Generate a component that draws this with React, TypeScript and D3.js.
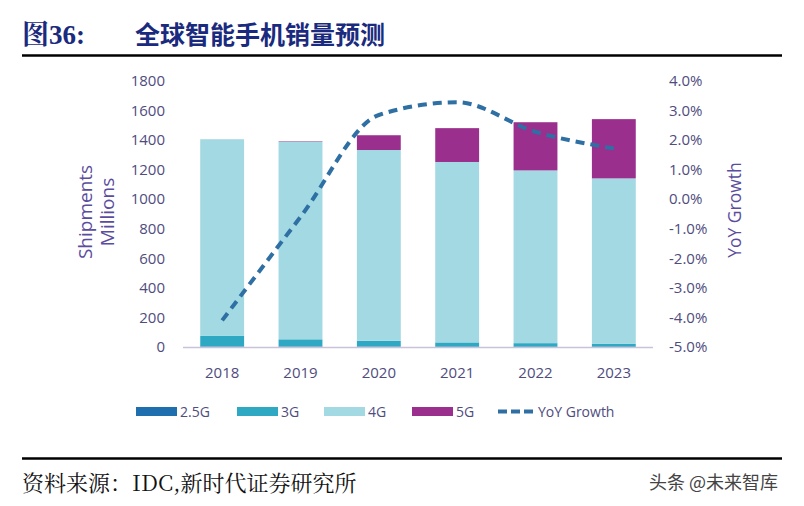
import React from "react";
import * as d3 from "d3";

const years = ["2018", "2019", "2020", "2021", "2022", "2023"];
const g25 = [3, 2, 2, 1, 1, 1];
const g3 = [72, 50, 40, 30, 25, 20];
const g4 = [1331, 1338, 1291, 1221, 1169, 1120];
const g5 = [0, 3, 100, 229, 326, 401];
const yoy = [-4.1, -0.6, 2.85, 3.28, 2.28, 1.72];
const leftTicks = [0, 200, 400, 600, 800, 1000, 1200, 1400, 1600, 1800];
const rightTicks = [-5, -4, -3, -2, -1, 0, 1, 2, 3, 4];

const seriesKeys = ["2.5G", "3G", "4G", "5G"];
const seriesVals = [g25, g3, g4, g5];
const colors = ["#1f6fae", "#2fa9c3", "#a2d9e3", "#9b2f8d"];

export default function App() {
  const W = 804, H = 506;
  const x = d3.scaleBand().domain(years).range([183, 653]).paddingInner(0.44).paddingOuter(0.22);
  const y = d3.scaleLinear().domain([0, 1800]).range([347, 81]);
  const y2 = d3.scaleLinear().domain([-5, 4]).range([347, 81]);
  const table = years.map((yr, i) => {
    const o: any = { year: yr };
    seriesKeys.forEach((k, j) => (o[k] = seriesVals[j][i]));
    return o;
  });
  const stacked = d3.stack().keys(seriesKeys)(table);
  const line = d3
    .line<number>()
    .x((_, i) => (x(years[i]) as number) + x.bandwidth() / 2)
    .y((d) => y2(d))
    .curve(d3.curveMonotoneX);
  const tickColor = "#4f4c7e";
  const titleColor = "#5b4d9e";
  const font = "'Open Sans', sans-serif";
  const legendItems = [
    { label: "2.5G", x: 136, color: colors[0] },
    { label: "3G", x: 237, color: colors[1] },
    { label: "4G", x: 324, color: colors[2] },
    { label: "5G", x: 412, color: colors[3] },
  ];
  return (
    <svg width={W} height={H} style={{ position: "absolute", left: 0, top: 0, background: "#fff" }}>
      <rect width={W} height={H} fill="#fff" />
      {/* Header */}
      <text x={22} y={44} fontFamily="'Liberation Serif', 'Noto Serif CJK SC', serif" fontWeight="bold" fontSize={27} fill="#1a2a7e">
        图36:
      </text>
      <text x={135} y={44} fontFamily="'Noto Sans CJK SC', sans-serif" fontWeight="bold" fontSize={25} fill="#1a2a7e">
        全球智能手机销量预测
      </text>
      <line x1={22} x2={782} y1={55.5} y2={55.5} stroke="#000" strokeWidth={2.5} />

      {/* Bars */}
      {stacked.map((s, j) => (
        <g key={s.key} fill={colors[j]}>
          {s.map((d, i) => (
            <rect
              key={i}
              x={x(years[i])}
              width={x.bandwidth()}
              y={y(d[1])}
              height={Math.max(0, y(d[0]) - y(d[1]))}
            />
          ))}
        </g>
      ))}
      {/* Axis line */}
      <line x1={183} x2={653} y1={347.5} y2={347.5} stroke="#c9c3d9" strokeWidth={1.5} />

      {/* YoY line */}
      <path d={line(yoy) || ""} fill="none" stroke="#2e6fa4" strokeWidth={4} strokeDasharray="9 6" />

      {/* Left ticks */}
      {leftTicks.map((t) => (
        <text key={t} x={165} y={y(t)} dy="0.35em" textAnchor="end" fontFamily={font} fontSize={15} fill={tickColor}>
          {t}
        </text>
      ))}
      {/* Right ticks */}
      {rightTicks.map((t) => (
        <text key={t} x={669} y={y2(t)} dy="0.35em" textAnchor="start" fontFamily={font} fontSize={15} fill={tickColor}>
          {t.toFixed(1) + "%"}
        </text>
      ))}
      {/* X labels */}
      {years.map((yr) => (
        <text
          key={yr}
          x={(x(yr) as number) + x.bandwidth() / 2}
          y={373}
          dy="0.35em"
          textAnchor="middle"
          fontFamily={font}
          fontSize={15}
          fill={tickColor}
        >
          {yr}
        </text>
      ))}
      {/* Axis titles */}
      <text transform="translate(85,212) rotate(-90)" textAnchor="middle" dy="0.35em" fontFamily={font} fontSize={19} fill={titleColor}>
        Shipments
      </text>
      <text transform="translate(107,212) rotate(-90)" textAnchor="middle" dy="0.35em" fontFamily={font} fontSize={19} fill={titleColor}>
        Millions
      </text>
      <text transform="translate(735,210) rotate(-90)" textAnchor="middle" dy="0.35em" fontFamily={font} fontSize={17.5} fill={titleColor}>
        YoY Growth
      </text>

      {/* Legend */}
      {legendItems.map((it) => (
        <g key={it.label}>
          <rect x={it.x} y={407} width={41} height={9} fill={it.color} />
          <text x={it.x + 44} y={412} dy="0.35em" fontFamily={font} fontSize={14} fill={tickColor}>
            {it.label}
          </text>
        </g>
      ))}
      <line x1={498} x2={534} y1={411.5} y2={411.5} stroke="#2e6fa4" strokeWidth={4} strokeDasharray="9 4" />
      <text x={538} y={412} dy="0.35em" fontFamily={font} fontSize={14} fill={tickColor}>
        YoY Growth
      </text>

      {/* Footer */}
      <line x1={22} x2={782} y1={458.5} y2={458.5} stroke="#000" strokeWidth={2.5} />
      <text x={22} y={491} fontFamily="'Noto Serif CJK SC', 'Liberation Serif', serif" fontSize={22} fill="#111">
        资料来源：IDC,新时代证券研究所
      </text>
      <text x={778} y={489} textAnchor="end" fontFamily="'Noto Sans CJK SC', sans-serif" fontSize={18} fill="#444">
        头条 @未来智库
      </text>
    </svg>
  );
}
